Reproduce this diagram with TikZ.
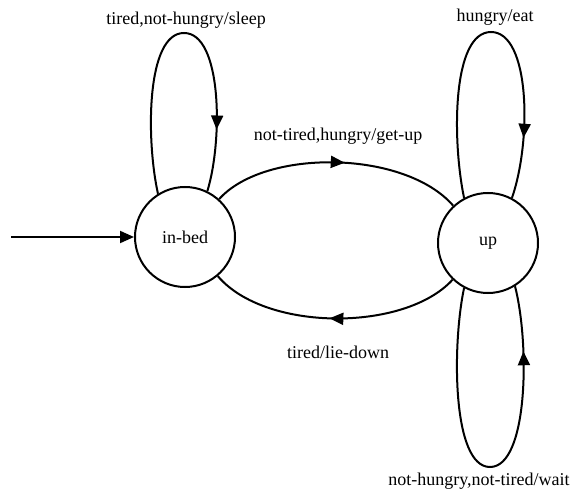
\documentclass[tikz,border=0pt]{standalone}
\usepackage{fontspec}
\setmainfont{Liberation Serif}
\usetikzlibrary{arrows.meta,decorations.markings}

\tikzset{
  state/.style={circle, draw, line width=2pt, minimum size=100pt, inner sep=0pt, font=\fontsize{18}{20}\selectfont},
  lbl/.style={font=\fontsize{18}{20}\selectfont, inner sep=0pt},
  edge/.style={line width=2pt},
  tip/.style={Triangle[length=14pt,width=12pt]},
  midarrow/.style={postaction={decorate}, decoration={markings,
      mark=at position #1 with {\arrow{Triangle[length=14pt,width=12pt]}}}}
}

\begin{document}
\begin{tikzpicture}[x=1pt, y=-1pt]
  \useasboundingbox (0,0) rectangle (578,497);

  % states
  \node[state] (bed) at (185,237) {in-bed};
  \node[state] (up)  at (488,243) {up};

  % initial state marker
  \coordinate (start) at (11,237);
  \draw[edge, -{Triangle[length=14pt,width=12pt]}] (start) -- (bed.west);

  % in-bed -> up and back
  \draw[edge, midarrow=0.53] (bed.48) .. controls (265,148) and (405,150) .. (up.133);
  \draw[edge, midarrow=0.52] (up.226) .. controls (405,332) and (265,332) .. (bed.-50);

  % self loop on in-bed
  \draw[edge, midarrow=0.82] (bed.122) .. controls (146,140) and (146,33) .. (184,33)
        .. controls (222,33) and (223,140) .. (bed.64);

  % self loops on up
  \draw[edge, midarrow=0.83] (up.118) .. controls (452,140) and (452,32) .. (491,32)
        .. controls (530,32) and (532,140) .. (up.62);
  \draw[edge, midarrow=0.83] (up.-118) .. controls (452,345) and (452,467) .. (490,467)
        .. controls (528,467) and (530,345) .. (up.-58);

  % transition labels
  \node[lbl] (l1) at (186,20)  {tired,not-hungry/sleep};
  \node[lbl] (l2) at (338,136) {not-tired,hungry/get-up};
  \node[lbl] (l3) at (495,17)  {hungry/eat};
  \node[lbl] (l4) at (338,352) {tired/lie-down};
  \node[lbl] (l5) at (479,481) {not-hungry,not-tired/wait};
\end{tikzpicture}
\end{document}
